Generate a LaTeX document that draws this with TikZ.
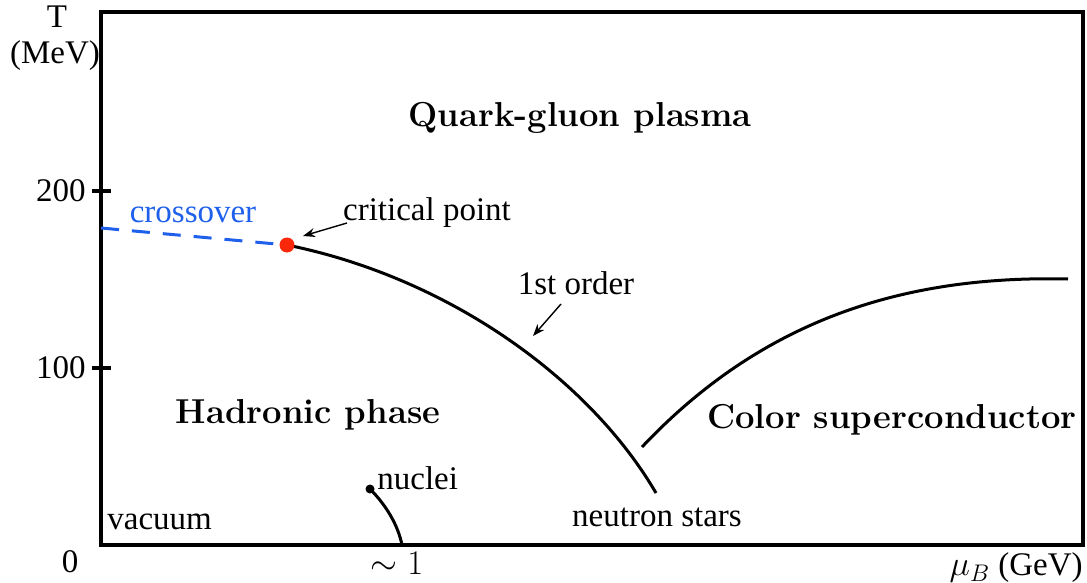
\documentclass[tikz,border=0pt]{standalone}
\usepackage{fontspec}
\newfontfamily\tnr{Liberation Serif}
\usetikzlibrary{arrows.meta}
\definecolor{cblue}{RGB}{30,95,235}
\definecolor{cred}{RGB}{250,40,10}
\tikzset{
  lbl/.style={font=\tnr\fontsize{16.5}{19}\selectfont, inner sep=0pt},
  big/.style={font=\fontsize{17.3}{20}\selectfont\bfseries, inner sep=0pt},
  thick line/.style={line width=1.5pt},
  ptr/.style={line width=0.7pt, -{Stealth[length=6pt,width=4.5pt]}},
}
\begin{document}
\begin{tikzpicture}[x=0.5pt,y=-0.5pt]
\useasboundingbox (0,0) rectangle (1087,583);
% frame
\draw[line width=1.6pt] (101,12) rectangle (1083,545);
% ticks
\draw[line width=1.6pt] (92,191) -- (111,191);
\draw[line width=1.6pt] (92,368) -- (111,368);
\node[lbl, anchor=east] (t200) at (86,191) {200};
\node[lbl, anchor=east] (t100) at (86,368) {100};
\node[lbl] (t0) at (70,562) {0};
\node[lbl] (T) at (57,17) {T};
\node[lbl] (mev) at (55,56) {(MeV)};
\node[lbl] (one) at (397,563) {$\sim 1$};
\node[lbl, anchor=east] (mub) at (1083,568) {$\mu_B$ (GeV)};
\node[lbl, anchor=west] (vac) at (107,522) {vacuum};
% crossover
\coordinate (c0) at (101,228);
\coordinate (cp) at (287,245);
\draw[cblue, thick line, dash pattern=on 9pt off 6.5pt] (c0) -- (cp);
\node[lbl, text=cblue] (cross) at (193,215) {crossover};
% first order line
\coordinate (ns) at (656,493);
\draw[thick line] (cp) .. controls (450,278) and (590,380) .. (ns);
\fill[cred] (cp) circle (7.5);
\node[lbl] (crit) at (427,213) {critical point};
\coordinate (critA) at (347,223);
\coordinate (critB) at (303,236);
\draw[ptr] (critA) -- (critB);
\node[lbl] (first) at (576,283) {1st order};
\coordinate (fA) at (561,304);
\coordinate (fB) at (533,336);
\draw[ptr] (fA) -- (fB);
% color superconductor line
\coordinate (cs0) at (642,447);
\coordinate (cs1) at (1068,279);
\draw[thick line] (cs0) .. controls (760,322) and (900,275) .. (cs1);
% nuclei
\coordinate (nuc) at (370,489);
\coordinate (nucE) at (402,545);
\draw[thick line] (nuc) .. controls (386,505) and (398,525) .. (nucE);
\fill (nuc) circle (4.5);
\node[lbl, anchor=west] (nuclei) at (377,478) {nuclei};
\node[lbl] (nstars) at (657,517) {neutron stars};
% phases
\node[big] (qgp) at (580,118) {Quark-gluon plasma};
\node[big] (had) at (308,415) {Hadronic phase};
\node[big] (csc) at (892,420) {Color superconductor};
\end{tikzpicture}
\end{document}
